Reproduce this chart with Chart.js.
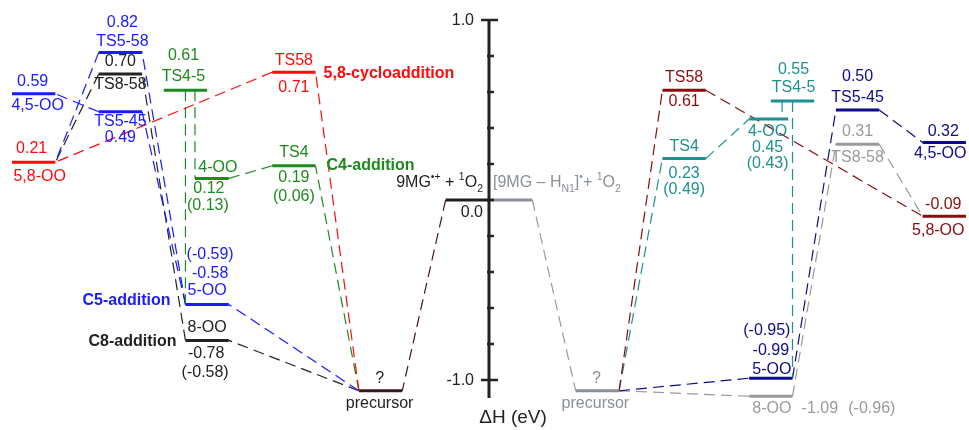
<!DOCTYPE html>
<html>
<head>
<meta charset="utf-8">
<script src="https://cdn.jsdelivr.net/npm/chart.js@4.4.1/dist/chart.umd.min.js"></script>
<style>
  html, body { margin: 0; padding: 0; background: #fff; }
  #wrap { width: 969px; height: 430px; }
</style>
</head>
<body>
<div id="wrap"><canvas id="chart" width="969" height="430"></canvas></div>
<script>
// ---- levels: id, enthalpy (eV), slot on the reaction coordinate ----
const levelIds = ['58OO_L', '45OO_L', 'TS558_L', 'TS858_L', 'TS545_L', 'TS45_L', '4OO_L', '5OO_L', '8OO_L', 'TS4_L', 'TS58_L', 'pre_L', 'R_L',
                  'R_R', 'pre_R', 'TS58_R', 'TS4_R', '4OO_R', 'TS45_R', '5OO_R', '8OO_R', 'TS545_R', 'TS858_R', '45OO_R', '58OO_R'];
const levelEnergy = [0.21, 0.59, 0.82, 0.70, 0.49, 0.61, 0.12, -0.58, -0.78, 0.19, 0.71, -1.06, 0.0,
                     0.0, -1.06, 0.61, 0.23, 0.45, 0.55, -0.99, -1.09, 0.50, 0.31, 0.32, -0.09];
const levelFrom = [0, 0, 2, 2, 2, 3.5, 4.22, 4, 4, 6, 6, 8, 10,
                   11, 13, 15, 15, 17, 17.5, 17, 17, 19, 19, 21, 21];
const levelTo = [1, 1, 3, 3, 3, 4.5, 5, 5, 5, 7, 7, 9, 11,
                 12, 14, 16, 16, 17.9, 18.5, 18, 18, 20, 20, 22, 22];
const levelPath = ['red', 'blue', 'blue', 'black', 'blue', 'green', 'green', 'blue', 'black', 'green', 'red', 'pre', 'start',
                   'startR', 'preR', 'dred', 'teal', 'teal', 'teal', 'navy', 'grey', 'navy', 'grey', 'navy', 'dred'];

// ---- dashed connections (level.side ; v = vertical drop from that level) ----
const connFrom = ['R_L.L', 'pre_L.L', 'pre_L.L', 'pre_L.L', 'pre_L.L', 'TS58_L.L', 'TS4_L.L', 'TS45_L.v', 'TS45_L.v',
                  '5OO_L.L', '5OO_L.L', '8OO_L.L', 'TS558_L.L', 'TS858_L.L', 'TS545_L.L',
                  'R_R.R', 'pre_R.R', 'pre_R.R', 'pre_R.R', 'pre_R.R', 'TS58_R.R', 'TS4_R.R', 'TS45_R.v', 'TS45_R.v',
                  '5OO_R.R', '8OO_R.R', 'TS545_R.R', 'TS858_R.R'];
const connTo = ['pre_L.R', 'TS58_L.R', 'TS4_L.R', '5OO_L.R', '8OO_L.R', '58OO_L.R', '4OO_L.R', '4OO_L.L', '5OO_L.L',
                'TS558_L.R', 'TS545_L.R', 'TS858_L.R', '58OO_L.R', '58OO_L.R', '45OO_L.R',
                'pre_R.L', 'TS58_R.L', 'TS4_R.L', '5OO_R.L', '8OO_R.L', '58OO_R.L', '4OO_R.L', '4OO_R.17.76', '5OO_R.R',
                'TS545_R.L', 'TS858_R.L', '45OO_R.L', '58OO_R.L'];
const connPath = ['link', 'red', 'green', 'blue', 'black', 'red', 'green', 'green', 'green',
                  'blue', 'blue', 'black', 'blue', 'black', 'blue',
                  'grey', 'dred', 'teal', 'navy', 'grey', 'dred', 'teal', 'teal', 'teal',
                  'navy', 'grey', 'navy', 'grey'];

// ---- texts beside the levels ----
const labelLevel = ['58OO_L', '58OO_L', '45OO_L', '45OO_L', 'TS558_L', 'TS558_L', 'TS858_L', 'TS858_L', 'TS545_L', 'TS545_L',
                    'TS45_L', 'TS45_L', '4OO_L', '4OO_L', '4OO_L', '5OO_L', '5OO_L', '5OO_L', '8OO_L', '8OO_L', '8OO_L',
                    'TS4_L', 'TS4_L', 'TS4_L', 'TS58_L', 'TS58_L', 'pre_L', 'pre_L',
                    'pre_R', 'pre_R', 'TS58_R', 'TS58_R', 'TS4_R', 'TS4_R', 'TS4_R', '4OO_R', '4OO_R', '4OO_R',
                    'TS45_R', 'TS45_R', '5OO_R', '5OO_R', '5OO_R', '8OO_R', '8OO_R', '8OO_R',
                    'TS545_R', 'TS545_R', 'TS858_R', 'TS858_R', '45OO_R', '45OO_R', '58OO_R', '58OO_R'];
const labelText = ['0.21', '5,8-OO', '0.59', '4,5-OO', '0.82', 'TS5-58', '0.70', 'TS8-58', 'TS5-45', '0.49',
                   '0.61', 'TS4-5', '4-OO', '0.12', '(0.13)', '(-0.59)', '-0.58', '5-OO', '8-OO', '-0.78', '(-0.58)',
                   'TS4', '0.19', '(0.06)', 'TS58', '0.71', '?', 'precursor',
                   '?', 'precursor', 'TS58', '0.61', 'TS4', '0.23', '(0.49)', '4-OO', '0.45', '(0.43)',
                   '0.55', 'TS4-5', '(-0.95)', '-0.99', '5-OO', '8-OO', '-1.09', '(-0.96)',
                   '0.50', 'TS5-45', '0.31', 'TS8-58', '0.32', '4,5-OO', '-0.09', '5,8-OO'];
// layout offsets from the level centre, px
const labelPlace = [[-2, -14], [6, 14], [-1, -12], [4, 12], [2, -30], [2, -11], [0, -12], [0, 11], [0, 10], [0, 26],
                    [-2, -35], [-2, -14], [6, -11], [-3, 10], [-4, 27], [3, -50], [3, -31], [0, -14], [0, -13], [-1, 13], [-2, 32],
                    [0, -13], [0, 12], [0, 31], [0, -12], [0, 15], [-1, -12], [-1, 13],
                    [-1, -12], [-2, 13], [0, -13], [0, 11], [0, -12], [0, 15], [0, 31], [-1, 13], [-1, 29], [-1, 45],
                    [1, -31], [1, -13], [-4, -48], [0, -28], [1, -9], [1, 12], [49, 12], [101, 12],
                    [0, -33], [0, -12], [0, -13], [0, 13], [-1, -11], [-4, 11], [-1, -12], [-6, 14]];

// pathway names
const pathNameText = ['5,8-cycloaddition', 'C4-addition', 'C5-addition', 'C8-addition'];
const pathNameLevel = ['TS58_L', 'TS4_L', '5OO_L', '8OO_L'];

const yTickValues = [1.0, 0.0, -1.0];
const yTickText = ['1.0', '0.0', '-1.0'];
const axisX = 11;          // slot where the enthalpy axis stands
const axisRange = [-1.1, 1.0];

// ---- styles ----
const pathColor = {
    red: '#ff0a0a', blue: '#1a1aff', black: '#222222', green: '#1c8a1c',
    pre: '#3a1620', start: '#1e1e1e', startR: '#8a9098', preR: '#8a9098', link: '#4a1228',
    dred: '#8a0c0c', teal: '#1e9090', navy: '#0c0c88', grey: '#9a9a9a'
};
const labelColor = { pre: '#222222', preR: '#8a9098' };
const FONT = "'Liberation Sans', Arial, sans-serif";

function idx(id) { return levelIds.indexOf(id); }

function anchor(spec, other) {
    const dot = spec.indexOf('.');
    const id = spec.slice(0, dot);
    const side = spec.slice(dot + 1);
    const i = idx(id);
    if (side === 'L') return { x: levelFrom[i], y: levelEnergy[i] };
    if (side === 'R') return { x: levelTo[i], y: levelEnergy[i] };
    if (side === 'v') return { x: other.x, y: levelEnergy[i] };
    return { x: parseFloat(side), y: levelEnergy[i] };
}

const datasets = [];
levelIds.forEach((id, i) => {
    datasets.push({
        data: [{ x: levelFrom[i], y: levelEnergy[i] }, { x: levelTo[i], y: levelEnergy[i] }],
        borderColor: pathColor[levelPath[i]],
        borderWidth: 3,
        borderCapStyle: 'butt',
        showLine: true,
        pointRadius: 0,
        order: 0
    });
});
connFrom.forEach((f, k) => {
    const b = anchor(connTo[k]);
    const a = anchor(f, b);
    datasets.push({
        data: [a, b],
        borderColor: pathColor[connPath[k]],
        borderWidth: 1.2,
        borderDash: [11, 6],
        showLine: true,
        pointRadius: 0,
        order: 1
    });
});

function drawRich(ctx, parts, x, y, align, color) {
    const big = '16px ' + FONT, small = '10.5px ' + FONT;
    ctx.save();
    ctx.fillStyle = color;
    ctx.textBaseline = 'middle';
    ctx.textAlign = 'left';
    let w = 0;
    parts.forEach(p => { ctx.font = p[1] === 'n' ? big : small; w += ctx.measureText(p[0]).width; });
    let cx = align === 'right' ? x - w : x;
    parts.forEach(p => {
        ctx.font = p[1] === 'n' ? big : small;
        const dy = p[1] === 'sup' ? -6 : (p[1] === 'sub' ? 6 : 0);
        ctx.fillText(p[0], cx, y + dy);
        cx += ctx.measureText(p[0]).width;
    });
    ctx.restore();
}

const diagramPlugin = {
    id: 'diagram',
    afterDatasetsDraw(chart) {
        const ctx = chart.ctx;
        const xs = chart.scales.x, ys = chart.scales.y;
        const ax = xs.getPixelForValue(axisX);

        // enthalpy axis
        ctx.save();
        ctx.strokeStyle = '#222';
        ctx.lineWidth = 3;
        ctx.beginPath();
        ctx.moveTo(ax, ys.getPixelForValue(axisRange[1]) - 1);
        ctx.lineTo(ax, ys.getPixelForValue(axisRange[0]));
        ctx.stroke();
        ctx.lineWidth = 2.5;
        for (let v = -1.0; v <= 1.0001; v += 0.2) {
            const py = ys.getPixelForValue(v);
            const major = Math.abs(v - 1) < 1e-6 || Math.abs(v + 1) < 1e-6;
            ctx.beginPath();
            ctx.moveTo(major ? ax - 8 : ax - 2, py);
            ctx.lineTo(major ? ax + 9 : ax + 5, py);
            ctx.stroke();
        }
        ctx.fillStyle = '#222';
        ctx.font = '16px ' + FONT;
        ctx.textAlign = 'right';
        ctx.textBaseline = 'middle';
        yTickValues.forEach((v, k) => {
            const py = ys.getPixelForValue(v);
            if (v === 0) ctx.fillText(yTickText[k], ax - 6, py + 13);
            else ctx.fillText(yTickText[k], ax - 15, py + 1);
        });
        ctx.font = '19px ' + FONT;
        ctx.textAlign = 'center';
        ctx.fillText('\u0394H (eV)', ax + 24, 418);

        // level labels
        ctx.font = '16px ' + FONT;
        labelText.forEach((t, k) => {
            const i = idx(labelLevel[k]);
            const cx = (xs.getPixelForValue(levelFrom[i]) + xs.getPixelForValue(levelTo[i])) / 2;
            const cy = ys.getPixelForValue(levelEnergy[i]);
            const p = levelPath[i];
            ctx.fillStyle = labelColor[p] || pathColor[p];
            ctx.fillText(t, cx + labelPlace[k][0], cy + labelPlace[k][1]);
        });

        // pathway names
        ctx.font = 'bold 16px ' + FONT;
        const namePlace = [['left', 8, 1], ['left', 11, 0], ['right', -15, -4], ['right', -9, 1]];
        pathNameText.forEach((t, k) => {
            const i = idx(pathNameLevel[k]);
            const pl = namePlace[k];
            const px = pl[0] === 'left' ? xs.getPixelForValue(levelTo[i]) : xs.getPixelForValue(levelFrom[i]);
            ctx.textAlign = pl[0];
            ctx.fillStyle = pathColor[levelPath[i]];
            ctx.fillText(t, px + pl[1], ys.getPixelForValue(levelEnergy[i]) + pl[2]);
        });
        ctx.restore();

        // reactant labels
        const y0 = ys.getPixelForValue(0) - 17;
        drawRich(ctx, [['9MG', 'n'], ['\u2022+', 'sup'], [' + ', 'n'], ['1', 'sup'], ['O', 'n'], ['2', 'sub']],
            ax - 6, y0, 'right', '#1e1e1e');
        drawRich(ctx, [['[9MG \u2013 H', 'n'], ['N1', 'sub'], [']', 'n'], ['\u2022', 'sup'], ['+ ', 'n'], ['1', 'sup'], ['O', 'n'], ['2', 'sub']],
            ax + 4, y0, 'left', '#8a9098');
    }
};

new Chart(document.getElementById('chart'), {
    type: 'scatter',
    data: { datasets: datasets },
    options: {
        responsive: false,
        devicePixelRatio: 1,
        animation: false,
        events: [],
        layout: { padding: 0 },
        plugins: { legend: { display: false }, tooltip: { enabled: false } },
        scales: {
            x: { type: 'linear', display: false, min: -0.277, max: 22.07 },
            y: { type: 'linear', display: false, min: -1.2778, max: 1.1111 }
        }
    },
    plugins: [diagramPlugin]
});
</script>
</body>
</html>
